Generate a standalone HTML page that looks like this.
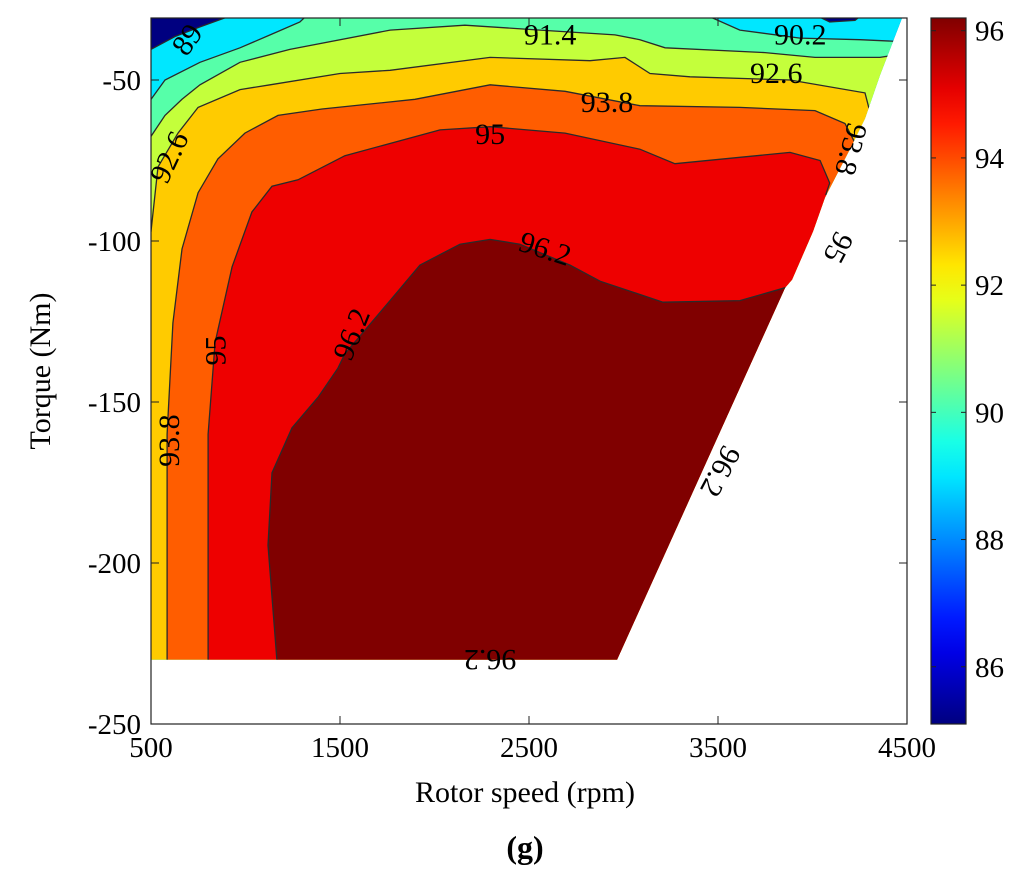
<!DOCTYPE html>
<html><head><meta charset="utf-8"><title>Efficiency map</title>
<style>
html,body{margin:0;padding:0;background:#fff;}
svg{display:block;font-family:"Liberation Serif",serif;}
</style></head>
<body>
<svg id="chart" width="1024" height="882" viewBox="0 0 1024 882" xmlns="http://www.w3.org/2000/svg">
<defs>
<clipPath id="domClip"><polygon id="domPoly" points=""/></clipPath>
<linearGradient id="jetGrad" x1="0" y1="1" x2="0" y2="0"></linearGradient>
</defs>
<g id="plot"></g>
<g id="axes"></g>
<g id="cbar"></g>
</svg>
<script>
// ---- data (rpm, torque Nm) ----
const levels = [89, 90.2, 91.4, 92.6, 93.8, 95, 96.2];
const xTicks = [500, 1500, 2500, 3500, 4500];
const yTicks = [-50, -100, -150, -200, -250];
const cbTicks = [86, 88, 90, 92, 94, 96];
const cbMin = 85.1, cbMax = 96.2;
const domain = [[500,-30.75],[500,-230],[2966,-230],[3855,-114.5],[3892,-112],[4003,-97],[4066,-86.5],[4198,-71.5],[4278,-62],[4357,-48.5],[4410,-40.5],[4474,-30.75]];
const region89 = [[400,-40.5],[500,-40.5],[627,-36.5],[759,-33.5],[971,-29],[971,-20],[3987,-20],[3987,-29],[4091,-32],[4225,-31.5],[4278,-29],[4278,-20],[5000,-20],[5000,-260],[400,-260]];
const region90 = [[400,-56],[500,-56],[574,-50],[759,-44.5],[971,-40],[1130,-36],[1288,-32],[1341,-29],[1341,-20],[3405,-20],[3405,-29],[3616,-34.5],[3934,-37],[4251,-37.5],[4437,-38],[5000,-38],[5000,-260],[400,-260]];
const region91 = [[400,-67.5],[500,-67.5],[574,-61],[664,-56],[759,-51.5],[971,-44.5],[1235,-40.5],[1765,-34.5],[2161,-33],[2558,-34.5],[2955,-36],[3087,-37.5],[3220,-40],[3749,-41.5],[4013,-43],[4357,-43],[4410,-42.5],[5000,-42.5],[5000,-260],[400,-260]];
const region92 = [[400,-97],[500,-97],[537,-77],[643,-66.5],[749,-58.5],[971,-53],[1130,-51.5],[1500,-48],[1765,-47],[2294,-43],[2823,-44],[3008,-43],[3140,-48],[3352,-49],[3881,-50],[4278,-54],[4304,-60],[5000,-60],[5000,-260],[400,-260]];
const region93 = [[585,-260],[585,-231],[585,-160],[616,-125.5],[664,-102.5],[749,-85],[854,-74.5],[997,-66.5],[1172,-61],[1405,-59],[1897,-56],[2294,-51.5],[2691,-53.5],[3087,-58],[3616,-58.5],[4013,-59.5],[4172,-63.5],[4225,-69.5],[5000,-69.5],[5000,-260]];
const region95 = [[802,-260],[802,-231],[802,-160],[839,-131.5],[929,-108],[1034,-91],[1140,-83],[1278,-81],[1526,-73.5],[2029,-65.5],[2294,-64.5],[2691,-66.5],[3087,-71.5],[3272,-76],[3616,-74],[3881,-72.5],[4040,-75],[4091,-82],[4071,-85.5],[5000,-85.5],[5000,-260]];
const region96 = [[1167,-260],[1167,-231],[1119,-194.5],[1140,-172],[1246,-158],[1384,-148.5],[1489,-139.5],[1526,-135],[1765,-118.5],[1923,-107.5],[2135,-101],[2294,-99.5],[2452,-101],[2717,-107.5],[2876,-112.5],[3209,-119],[3616,-118.5],[3855,-114.5],[5000,-114.5],[5000,-260]];
const labelText = ["89","91.4","90.2","92.6","93.8","95","92.6","93.8","95","96.2","96.2","95","93.8","96.2","96.2"];
const labelPos = [[693,-37.5],[2612,-36],[3935,-36],[3808,-48],[2913,-57],[2294,-67],[598,-74],[4202,-71.5],[4135,-102],[2585,-102.5],[1563,-129],[844,-134],[598,-162],[3511,-171.5],[2294,-230]];
const labelRot = [-55,0,0,0,0,0,-65,105,118,18,-68,-90,-90,118,180];

// ---- axes ----
const PX0=151, PX1=907, PY0=18, PY1=724;
const X0=500, X1=4500, Y0=-250, Y1=-30.75;
function xs(v){return PX0+(v-X0)/(X1-X0)*(PX1-PX0);}
function ys(v){return PY1-(v-Y0)/(Y1-Y0)*(PY1-PY0);}
const CBX=931, CBW=35;
function cy(v){return PY1-(v-cbMin)/(cbMax-cbMin)*(PY1-PY0);}
function jet(v){
  const t=Math.max(0,Math.min(1,(v-cbMin)/(cbMax-cbMin)));
  const c=x=>Math.round(255*Math.max(0,Math.min(1,x)));
  return `rgb(${c(1.5-Math.abs(4*t-3))},${c(1.5-Math.abs(4*t-2))},${c(1.5-Math.abs(4*t-1))})`;
}
const NS="http://www.w3.org/2000/svg";
function mk(tag,attrs,parent){const e=document.createElementNS(NS,tag);for(const k in attrs)e.setAttribute(k,attrs[k]);parent.appendChild(e);return e;}
const pts=a=>a.map(p=>xs(p[0]).toFixed(1)+","+ys(p[1]).toFixed(1)).join(" ");

document.getElementById("domPoly").setAttribute("points",pts(domain));
const plot=document.getElementById("plot");
const g=mk("g",{"clip-path":"url(#domClip)"},plot);
const base=mk("polygon",{points:pts(domain),fill:jet(cbMin)},g);


const regions=[region89,region90,region91,region92,region93,region95,region96];
regions.forEach((r,i)=>{
  const p=mk("polygon",{points:pts(r),fill:jet(levels[i]),stroke:"#2a2a2a","stroke-width":1.3},g);
  
  
});
labelText.forEach((t,i)=>{
  const x=xs(labelPos[i][0]), y=ys(labelPos[i][1]);
  const e=mk("text",{x:x,y:y,"font-size":30,"text-anchor":"middle","dominant-baseline":"central",transform:`rotate(${labelRot[i]} ${x} ${y})`,fill:"#000"},plot);
  e.textContent=t;
  
  
});

const axes=document.getElementById("axes");
const frame=mk("rect",{x:PX0,y:PY0,width:PX1-PX0,height:PY1-PY0,fill:"none",stroke:"#222","stroke-width":1.2},axes);


xTicks.forEach(v=>{
  const x=xs(v);
  mk("line",{x1:x,y1:PY1,x2:x,y2:PY1-8,stroke:"#222"},axes);
  mk("line",{x1:x,y1:PY0,x2:x,y2:PY0+8,stroke:"#222"},axes);
  const t=mk("text",{x:x,y:757,"font-size":29,"text-anchor":"middle"},axes);
  t.textContent=v;
  
  
});
yTicks.forEach(v=>{
  const y=ys(v);
  mk("line",{x1:PX0,y1:y,x2:PX0+8,y2:y,stroke:"#222"},axes);
  mk("line",{x1:PX1,y1:y,x2:PX1-8,y2:y,stroke:"#222"},axes);
  const t=mk("text",{x:141,y:y+10,"font-size":29,"text-anchor":"end"},axes);
  t.textContent=v;
  
  
});
const xl=mk("text",{x:525,y:802,"font-size":30,"text-anchor":"middle"},axes);
xl.textContent="Rotor speed (rpm)";


const yl=mk("text",{x:50,y:371,"font-size":30,"text-anchor":"middle",transform:"rotate(-90 50 371)"},axes);
yl.textContent="Torque (Nm)";


const cap=mk("text",{x:525,y:858,"font-size":32,"font-weight":"bold","text-anchor":"middle"},axes);
cap.textContent="(g)";



// colorbar
const grad=document.getElementById("jetGrad");
for(let i=0;i<=20;i++){const v=cbMin+(cbMax-cbMin)*i/20;mk("stop",{offset:(i/20),"stop-color":jet(v)},grad);}
const cb=document.getElementById("cbar");
const cr=mk("rect",{x:CBX,y:PY0,width:CBW,height:PY1-PY0,fill:"url(#jetGrad)",stroke:"#222","stroke-width":1.2},cb);


cbTicks.forEach(v=>{
  const y=cy(v);
  mk("line",{x1:CBX,y1:y,x2:CBX+5,y2:y,stroke:"#222"},cb);
  mk("line",{x1:CBX+CBW,y1:y,x2:CBX+CBW-5,y2:y,stroke:"#222"},cb);
  const t=mk("text",{x:975,y:y+10,"font-size":29},cb);
  t.textContent=v;
  
  
});
</script>
</body></html>
